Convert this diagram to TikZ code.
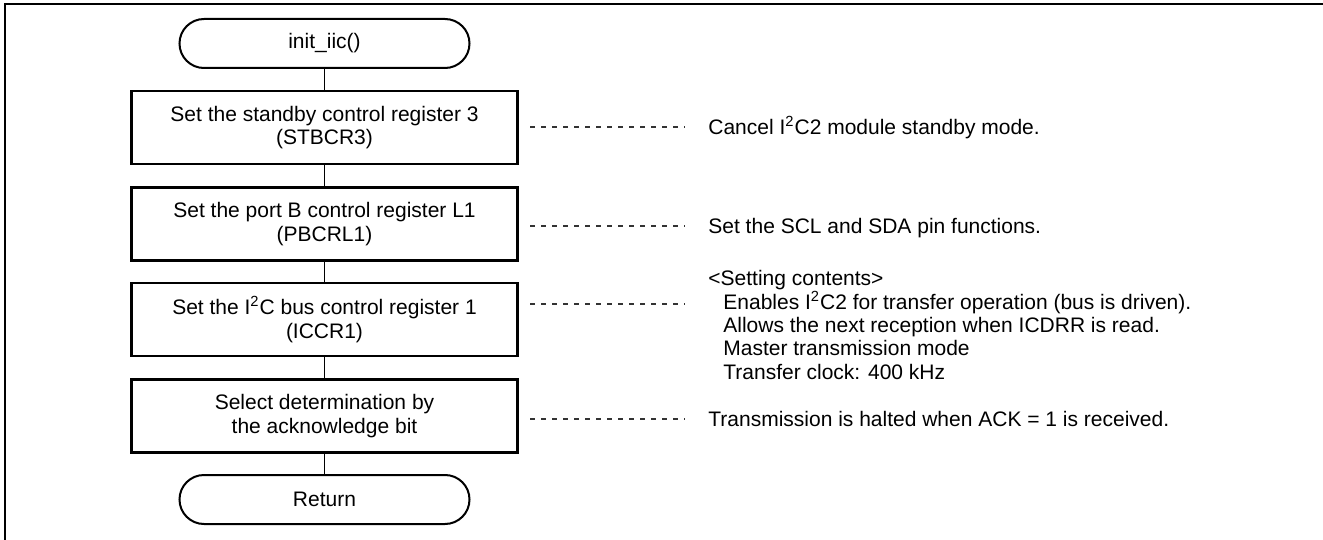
\documentclass[tikz,border=0pt]{standalone}
\usepackage{fontspec}
\setmainfont{Liberation Sans}
\begin{document}
\begin{tikzpicture}[x=0.5pt,y=-0.5pt,
  every node/.style={font=\fontsize{10.5pt}{11.7pt}\selectfont},
  term/.style={draw, line width=1pt, rounded corners=12.25pt, minimum width=145pt, minimum height=24.5pt, inner sep=0pt},
  proc/.style={draw, line width=1.1pt, minimum width=193pt, minimum height=36.5pt, align=center, inner sep=0pt},
  link/.style={line width=0.55pt},
  note/.style={dash pattern=on 2.5pt off 3pt, line width=0.55pt, black!80},
  txt/.style={anchor=base west, inner sep=0pt},
  blk/.style={anchor=west, inner sep=0pt, align=left}]
\useasboundingbox (0,0) rectangle (1323,540);
\draw[line width=1.2pt] (5,540) -- (5,4) -- (1323,4);

\node[term] (start) at (324.5,43.5) {init\_iic()};
\node[proc] (b1) at (324.5,127.5) {Set the standby control register 3\\(STBCR3)};
\node[proc] (b2) at (324.5,224) {Set the port B control register L1\\(PBCRL1)};
\node[proc] (b3) at (324.5,319.5) {Set the I\textsuperscript{2}C bus control register 1\\(ICCR1)};
\node[proc] (b4) at (324.5,416) {Select determination by\\the acknowledge bit};
\node[term] (ret) at (324.5,499.5) {Return};

\draw[link] (start) -- (b1);
\draw[link] (b1) -- (b2);
\draw[link] (b2) -- (b3);
\draw[link] (b3) -- (b4);
\draw[link] (b4) -- (ret);

\coordinate (d1a) at (530,127); \coordinate (d1b) at (685,127);
\coordinate (d2a) at (530,226); \coordinate (d2b) at (685,226);
\coordinate (d3a) at (530,304); \coordinate (d3b) at (685,304);
\coordinate (d4a) at (530,419); \coordinate (d4b) at (685,419);
\draw[note] (d1a) -- (d1b);
\draw[note] (d2a) -- (d2b);
\draw[note] (d3a) -- (d3b);
\draw[note] (d4a) -- (d4b);

\node[txt] (n1) at (708,134.5) {Cancel I\textsuperscript{2}C2 module standby mode.};
\node[txt] (n2) at (708,233.5) {Set the SCL and SDA pin functions.};
\node[blk] (n3) at (708,325) {<Setting contents>\\
\hspace*{7.5pt}Enables I\textsuperscript{2}C2 for transfer operation (bus is driven).\\
\hspace*{7.5pt}Allows the next reception when ICDRR is read.\\
\hspace*{7.5pt}Master transmission mode\\
\hspace*{7.5pt}Transfer clock: 400 kHz};
\node[txt] (n4) at (708,426.5) {Transmission is halted when ACK = 1 is received.};
\end{tikzpicture}
\end{document}
